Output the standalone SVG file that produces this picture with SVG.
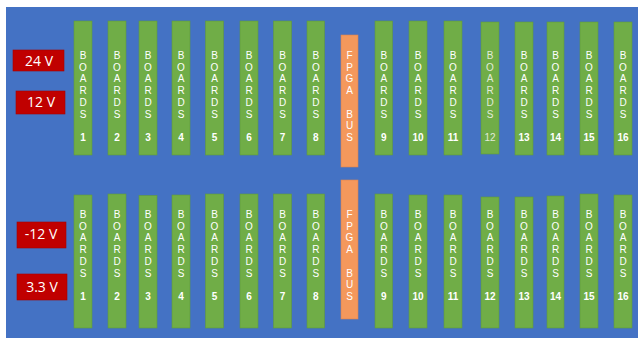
<svg xmlns="http://www.w3.org/2000/svg" width="638" height="338" viewBox="0 0 638 338">
<style>
.bg{fill:#4472C4}
.bd{fill:#70AD47;stroke:#5f9a3c;stroke-width:0.6}
.fp{fill:#F4985C;stroke:#d98450;stroke-width:0.6}
.pw{fill:#C00000;stroke:#a50000;stroke-width:0.6}
.t{font-family:"Liberation Sans",Arial,sans-serif;font-size:10px;fill:#ffffff;text-anchor:middle}
.n{font-family:"Liberation Sans",Arial,sans-serif;font-size:10px;fill:#ffffff;text-anchor:middle;font-weight:bold}
.tl{font-family:"Liberation Sans",Arial,sans-serif;font-size:10px;fill:#e2ebd9;text-anchor:middle}
.pt{font-family:"Open Sans","Liberation Sans",sans-serif;font-size:14px;fill:#ffffff;text-anchor:middle}
</style>
<defs>
<g id="lblTop">
<text class="t" x="0" y="59">B</text><text class="t" x="0" y="70.7">O</text><text class="t" x="0" y="82.4">A</text><text class="t" x="0" y="94.1">R</text><text class="t" x="0" y="105.8">D</text><text class="t" x="0" y="117.5">S</text>
</g>
<g id="lblBot">
<text class="t" x="0" y="218">B</text><text class="t" x="0" y="229.7">O</text><text class="t" x="0" y="241.4">A</text><text class="t" x="0" y="253.1">R</text><text class="t" x="0" y="264.8">D</text><text class="t" x="0" y="276.5">S</text>
</g>
</defs>
<rect class="bg" x="6" y="7" width="632" height="331"/>

<g id="pwr24"><rect class="pw" x="13" y="50" width="51" height="21"/><text class="pt" x="39" y="66">24 V</text></g>
<g id="pwr12"><rect class="pw" x="16" y="91" width="49" height="23"/><text class="pt" x="41" y="107">12 V</text></g>
<g id="pwrm12"><rect class="pw" x="17" y="222" width="49" height="26"/><text class="pt" x="41" y="239">-12 V</text></g>
<g id="pwr33"><rect class="pw" x="17" y="274" width="50" height="26"/><text class="pt" x="42" y="292">3.3 V</text></g>

<g id="top-boards">
<g id="t1"><rect class="bd" x="74" y="21" width="18" height="134"/><use href="#lblTop" x="83"/><text class="n" x="83" y="141">1</text></g>
<g id="t2"><rect class="bd" x="108" y="21" width="18" height="134"/><use href="#lblTop" x="117"/><text class="n" x="117" y="141">2</text></g>
<g id="t3"><rect class="bd" x="139" y="21" width="18" height="134"/><use href="#lblTop" x="148"/><text class="n" x="148" y="141">3</text></g>
<g id="t4"><rect class="bd" x="172" y="21" width="18" height="134"/><use href="#lblTop" x="181"/><text class="n" x="181" y="141">4</text></g>
<g id="t5"><rect class="bd" x="205.5" y="21" width="18" height="134"/><use href="#lblTop" x="214.5"/><text class="n" x="214.5" y="141">5</text></g>
<g id="t6"><rect class="bd" x="240" y="21" width="18" height="134"/><use href="#lblTop" x="249"/><text class="n" x="249" y="141">6</text></g>
<g id="t7"><rect class="bd" x="273.5" y="21" width="18" height="134"/><use href="#lblTop" x="282.5"/><text class="n" x="282.5" y="141">7</text></g>
<g id="t8"><rect class="bd" x="307" y="21" width="17.5" height="134"/><use href="#lblTop" x="315.8"/><text class="n" x="315.8" y="141">8</text></g>
<g id="tfpga"><rect class="fp" x="341" y="35" width="17" height="132"/>
<text class="t" x="349.5" y="59">F</text><text class="t" x="349.5" y="70.7">P</text><text class="t" x="349.5" y="82.4">G</text><text class="t" x="349.5" y="94.1">A</text><text class="t" x="349.5" y="117.5">B</text><text class="t" x="349.5" y="129.2">U</text><text class="t" x="349.5" y="140.9">S</text></g>
<g id="t9"><rect class="bd" x="375" y="21" width="17.5" height="134"/><use href="#lblTop" x="383.8"/><text class="n" x="383.8" y="141">9</text></g>
<g id="t10"><rect class="bd" x="409" y="21" width="18" height="134"/><use href="#lblTop" x="418"/><text class="n" x="418" y="141">10</text></g>
<g id="t11"><rect class="bd" x="444" y="21" width="18" height="134"/><use href="#lblTop" x="453"/><text class="n" x="453" y="141">11</text></g>
<g id="t12"><rect class="bd" x="481" y="22" width="18" height="132"/>
<text class="tl" x="490" y="59">B</text><text class="tl" x="490" y="70.7">O</text><text class="tl" x="490" y="82.4">A</text><text class="tl" x="490" y="94.1">R</text><text class="tl" x="490" y="105.8">D</text><text class="tl" x="490" y="117.5">S</text><text class="tl" x="490" y="141">12</text></g>
<g id="t13"><rect class="bd" x="515" y="22" width="18" height="133"/><use href="#lblTop" x="524"/><text class="n" x="524" y="141">13</text></g>
<g id="t14"><rect class="bd" x="547" y="22" width="17" height="133"/><use href="#lblTop" x="555.5"/><text class="n" x="555.5" y="141">14</text></g>
<g id="t15"><rect class="bd" x="580" y="22" width="18" height="133"/><use href="#lblTop" x="589"/><text class="n" x="589" y="141">15</text></g>
<g id="t16"><rect class="bd" x="614" y="22" width="18" height="133"/><use href="#lblTop" x="623"/><text class="n" x="623" y="141">16</text></g>
</g>

<g id="bottom-boards">
<g id="b1"><rect class="bd" x="74" y="195" width="18" height="133"/><use href="#lblBot" x="83"/><text class="n" x="83" y="300">1</text></g>
<g id="b2"><rect class="bd" x="108" y="194" width="18" height="134"/><use href="#lblBot" x="117"/><text class="n" x="117" y="300">2</text></g>
<g id="b3"><rect class="bd" x="139" y="195.5" width="18" height="132.5"/><use href="#lblBot" x="148"/><text class="n" x="148" y="300">3</text></g>
<g id="b4"><rect class="bd" x="172" y="195" width="18" height="133"/><use href="#lblBot" x="181"/><text class="n" x="181" y="300">4</text></g>
<g id="b5"><rect class="bd" x="205.5" y="194" width="18" height="134"/><use href="#lblBot" x="214.5"/><text class="n" x="214.5" y="300">5</text></g>
<g id="b6"><rect class="bd" x="240" y="194" width="18" height="134"/><use href="#lblBot" x="249"/><text class="n" x="249" y="300">6</text></g>
<g id="b7"><rect class="bd" x="273.5" y="194" width="18" height="134"/><use href="#lblBot" x="282.5"/><text class="n" x="282.5" y="300">7</text></g>
<g id="b8"><rect class="bd" x="307" y="194" width="17.5" height="134"/><use href="#lblBot" x="315.8"/><text class="n" x="315.8" y="300">8</text></g>
<g id="bfpga"><rect class="fp" x="341" y="180" width="17" height="139"/>
<text class="t" x="349.5" y="218">F</text><text class="t" x="349.5" y="229.7">P</text><text class="t" x="349.5" y="241.4">G</text><text class="t" x="349.5" y="253.1">A</text><text class="t" x="349.5" y="276.5">B</text><text class="t" x="349.5" y="288.2">U</text><text class="t" x="349.5" y="299.9">S</text></g>
<g id="b9"><rect class="bd" x="375" y="194" width="17.5" height="134"/><use href="#lblBot" x="383.8"/><text class="n" x="383.8" y="300">9</text></g>
<g id="b10"><rect class="bd" x="409" y="195" width="18" height="133"/><use href="#lblBot" x="418"/><text class="n" x="418" y="300">10</text></g>
<g id="b11"><rect class="bd" x="444" y="195" width="18" height="133"/><use href="#lblBot" x="453"/><text class="n" x="453" y="300">11</text></g>
<g id="b12"><rect class="bd" x="481" y="197" width="18" height="131"/><use href="#lblBot" x="490"/><text class="n" x="490" y="300">12</text></g>
<g id="b13"><rect class="bd" x="515" y="197" width="18" height="131"/><use href="#lblBot" x="524"/><text class="n" x="524" y="300">13</text></g>
<g id="b14"><rect class="bd" x="547" y="196" width="17" height="132"/><use href="#lblBot" x="555.5"/><text class="n" x="555.5" y="300">14</text></g>
<g id="b15"><rect class="bd" x="580" y="194" width="18" height="134"/><use href="#lblBot" x="589"/><text class="n" x="589" y="300">15</text></g>
<g id="b16"><rect class="bd" x="614" y="195" width="18" height="133"/><use href="#lblBot" x="623"/><text class="n" x="623" y="300">16</text></g>
</g>

<g id="connectors"/>
</svg>
